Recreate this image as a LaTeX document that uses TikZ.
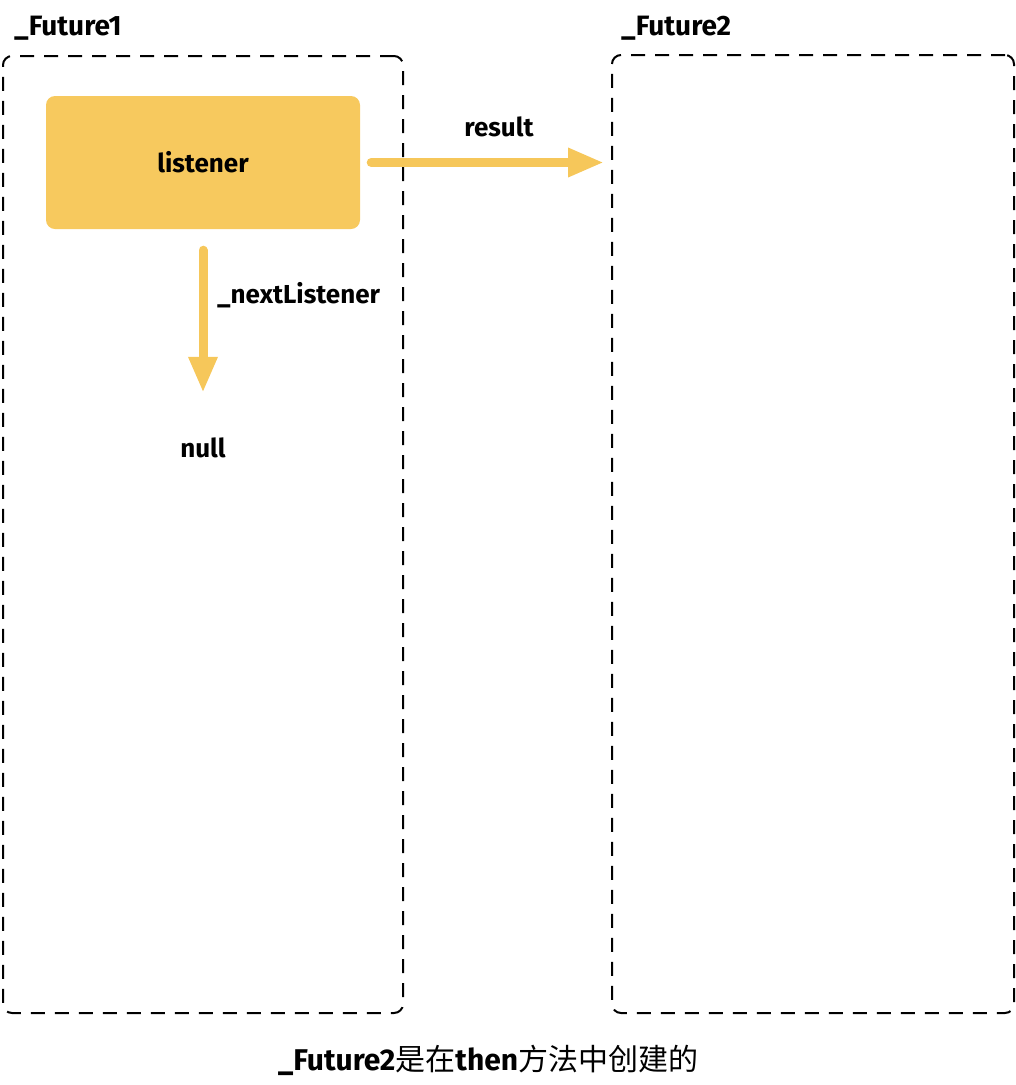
\documentclass[tikz,border=0pt]{standalone}
\usepackage{fontspec}
\setmainfont{Fira Sans}
\newfontfamily\cjk{Noto Sans CJK SC}
\usetikzlibrary{arrows.meta}
\definecolor{lyellow}{HTML}{F7C95E}
\definecolor{ayellow}{HTML}{F6C75A}
\tikzset{
  dashbox/.style={draw=black, line width=2pt, dash pattern=on 14pt off 10pt, rounded corners=9pt, inner sep=0pt},
  yellowbox/.style={fill=lyellow, rounded corners=9pt, inner sep=0pt, font=\bfseries\fontsize{26}{30}\selectfont},
  lbl/.style={inner sep=0pt, font=\bfseries\fontsize{26}{30}\selectfont},
  title/.style={inner sep=0pt, anchor=west, font=\bfseries\fontsize{28}{33}\selectfont},
  fatarrow/.style={draw=ayellow, line width=9pt, line cap=round, -{Triangle[length=36pt,width=27pt]}}
}
\begin{document}
\begin{tikzpicture}[x=1pt,y=-1pt]
\useasboundingbox (0,0) rectangle (1016,1085);
\node[dashbox, minimum width=400pt, minimum height=957pt] (f1) at (203,534.5) {};
\node[dashbox, minimum width=402pt, minimum height=958pt] (f2) at (813,534) {};
\node[title] (t1) at (14,28) {\_Future1};
\node[title] (t2) at (621,28) {\_Future2};
\node[yellowbox, minimum width=314pt, minimum height=133pt] (listener) at (203,162.5) {listener};
\node[lbl] (result) at (499,127) {result};
\node[lbl, anchor=west] (next) at (217,295) {\_nextListener};
\node[lbl, text height=18pt, text depth=0pt] (null) at (203,448) {null};
\draw[fatarrow, shorten <=11pt, shorten >=7pt] (listener.east) -- (f2.west |- listener.east);
\draw[fatarrow, shorten <=21pt, shorten >=46pt] (listener.south) -- (null.north);
\node[inner sep=0pt, font=\fontsize{30}{35}\selectfont] (cap) at (488,1060) {{\bfseries\_Future2}{\cjk 是在}{\bfseries then}{\cjk 方法中创建的}};
\end{tikzpicture}
\end{document}
